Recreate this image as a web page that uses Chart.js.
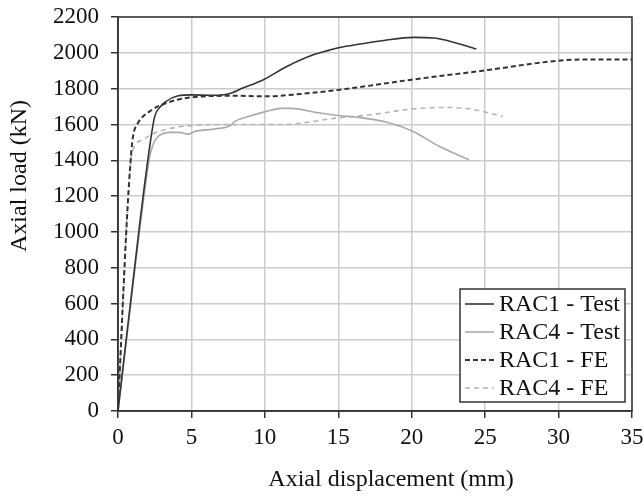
<!DOCTYPE html>
<html>
<head>
<meta charset="utf-8">
<script src="https://cdn.jsdelivr.net/npm/chart.js@4/dist/chart.umd.min.js"></script>
<style>
  html, body { margin: 0; padding: 0; background: #fff; }
  #wrap { width: 644px; height: 498px; position: relative; }
</style>
</head>
<body>
<div id="wrap"><canvas id="chart"></canvas></div>
<script>
  // values
  const rac1TestX = [0, 1.5, 2.2, 2.5, 2.9, 3.2, 4.1, 5, 6.5, 7.5, 8.5, 9.9, 11.5, 13.3, 14.4, 15.1, 16.5, 18.1, 20.1, 21.5, 22.4, 24.4];
  const rac1TestY = [0, 1060, 1500, 1645, 1700, 1725, 1760, 1765, 1763, 1770, 1803, 1850, 1924, 1989, 2015, 2030, 2049, 2069, 2086, 2083, 2069, 2021];

  const rac4TestX = [0, 1.9, 2.16, 2.4, 2.73, 3.1, 3.53, 4.2, 4.77, 5.23, 6.48, 7.62, 7.96, 8.76, 10.1, 11.1, 11.8, 13.5, 15.1, 16.3, 18.5, 20.1, 21.9, 23.9];
  const rac4TestY = [0, 1280, 1421, 1490, 1533, 1550, 1556, 1556, 1546, 1561, 1574, 1593, 1617, 1641, 1673, 1690, 1690, 1667, 1649, 1641, 1608, 1561, 1477, 1403];

  const rac1FeX = [0, 0.6, 0.9, 1.02, 1.36, 2.16, 3.3, 4.67, 7.84, 10.1, 12.4, 15.1, 20, 25, 30, 32, 35];
  const rac1FeY = [0, 1060, 1440, 1533, 1608, 1673, 1720, 1748, 1760, 1757, 1770, 1794, 1850, 1902, 1956, 1963, 1963];

  const rac4FeX = [0, 0.68, 0.85, 1.02, 1.7, 2.62, 3.98, 5.57, 8, 11.5, 13.3, 14.5, 17.2, 20, 22.2, 24, 26.2];
  const rac4FeY = [0, 1180, 1380, 1459, 1515, 1556, 1584, 1597, 1600, 1600, 1617, 1632, 1654, 1686, 1695, 1686, 1645];

  const seriesNames = ['RAC1 - Test', 'RAC4 - Test', 'RAC1 - FE', 'RAC4 - FE'];
  const xTicks = [0, 5, 10, 15, 20, 25, 30, 35];
  const yTicks = [0, 200, 400, 600, 800, 1000, 1200, 1400, 1600, 1800, 2000, 2200];

  const FONT = '"Liberation Serif", "Times New Roman", serif';

  function pts(xs, ys) {
    return xs.map((x, i) => ({ x: x, y: ys[i] }));
  }

  const styles = [
    { color: '#333333', dash: [] },
    { color: '#aaaaaa', dash: [] },
    { color: '#333333', dash: [5, 3] },
    { color: '#b4b4b4', dash: [5, 4] }
  ];

  const datasets = [
    pts(rac1TestX, rac1TestY),
    pts(rac4TestX, rac4TestY),
    pts(rac1FeX, rac1FeY),
    pts(rac4FeX, rac4FeY)
  ].map((data, i) => ({
    label: seriesNames[i],
    data: data,
    showLine: true,
    borderColor: styles[i].color,
    borderDash: styles[i].dash,
    borderWidth: i === 2 ? 2 : 1.6,
    pointRadius: 0,
    cubicInterpolationMode: 'monotone',
    fill: false
  }));

  // frame, titles and the legend box
  const decor = {
    id: 'decor',
    afterDraw(chart) {
      const ctx = chart.ctx;
      const a = chart.chartArea;
      ctx.save();
      ctx.strokeStyle = '#333';
      ctx.lineWidth = 1.5;
      ctx.strokeRect(a.left, a.top, a.right - a.left, a.bottom - a.top);

      ctx.fillStyle = '#111';
      ctx.font = '24px ' + FONT;
      ctx.textAlign = 'center';
      ctx.textBaseline = 'middle';
      ctx.fillText('Axial displacement (mm)', 391, 480);
      ctx.save();
      ctx.translate(20, 176);
      ctx.rotate(-Math.PI / 2);
      ctx.fillText('Axial load (kN)', 0, 0);
      ctx.restore();

      // legend
      const bx = 460, by = 289, bw = 165, bh = 113;
      ctx.fillStyle = '#fff';
      ctx.fillRect(bx, by, bw, bh);
      ctx.strokeStyle = '#333';
      ctx.lineWidth = 1.5;
      ctx.strokeRect(bx, by, bw, bh);
      ctx.textAlign = 'left';
      ctx.font = '24px ' + FONT;
      chart.data.datasets.forEach((ds, i) => {
        const cy = 304 + i * 28;
        ctx.beginPath();
        ctx.strokeStyle = ds.borderColor;
        ctx.lineWidth = ds.borderWidth;
        ctx.setLineDash(ds.borderDash);
        ctx.moveTo(465, cy);
        ctx.lineTo(494, cy);
        ctx.stroke();
        ctx.setLineDash([]);
        ctx.fillStyle = '#111';
        ctx.fillText(ds.label, 499, cy + 1);
      });
      ctx.restore();
    }
  };

  new Chart(document.getElementById('chart'), {
    type: 'scatter',
    data: { datasets: datasets },
    options: {
      responsive: true,
      maintainAspectRatio: false,
      animation: false,
      layout: { padding: { top: 17, right: 12, left: 0, bottom: 0 } },
      plugins: {
        legend: { display: false },
        tooltip: { enabled: false }
      },
      scales: {
        x: {
          type: 'linear',
          min: 0,
          max: 35,
          afterBuildTicks: (s) => { s.ticks = xTicks.map(v => ({ value: v })); },
          afterFit: (s) => { s.height = 87; s.paddingLeft = 0; s.paddingRight = 0; },
          ticks: { color: '#111', font: { family: FONT, size: 23 }, padding: 6, callback: (v) => String(v) },
          grid: { color: '#cccccc', lineWidth: 1.5, tickColor: '#333', tickLength: 7 },
          border: { color: '#333', width: 1.5 }
        },
        y: {
          type: 'linear',
          min: 0,
          max: 2200,
          afterBuildTicks: (s) => { s.ticks = yTicks.map(v => ({ value: v })); },
          afterFit: (s) => { s.width = 118; s.paddingTop = 0; s.paddingBottom = 0; },
          ticks: { color: '#111', font: { family: FONT, size: 23 }, padding: 12, callback: (v) => String(v) },
          grid: { color: '#cccccc', lineWidth: 1.5, tickColor: '#333', tickLength: 7 },
          border: { color: '#333', width: 1.5 }
        }
      }
    },
    plugins: [decor]
  });
</script>
</body>
</html>
